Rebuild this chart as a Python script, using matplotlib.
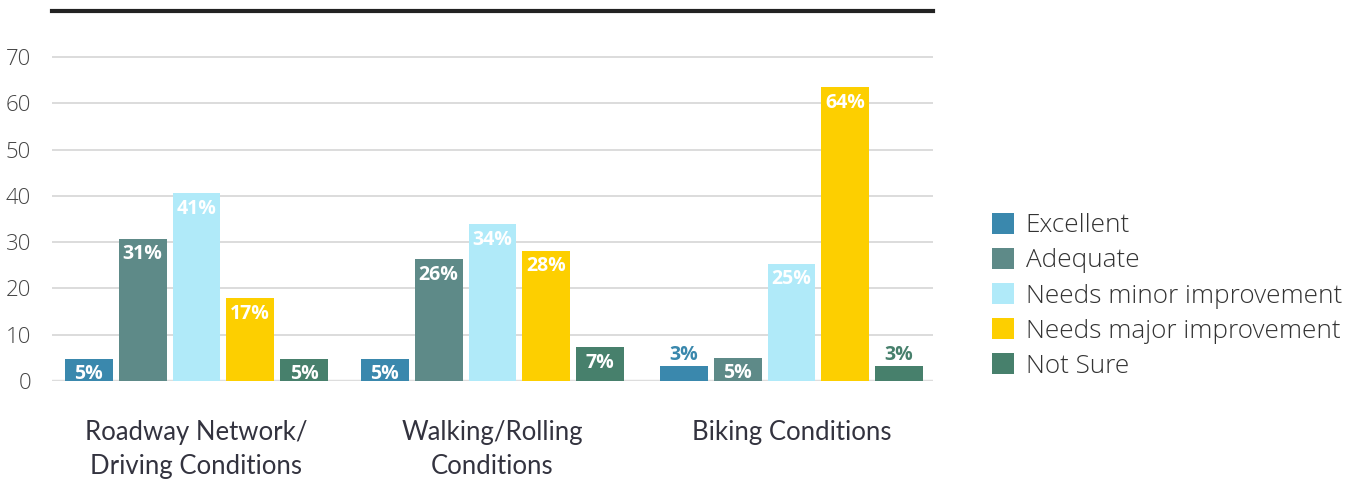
import numpy as np
import matplotlib
matplotlib.use("Agg")
import matplotlib.pyplot as plt
from matplotlib.patches import Patch

# Daten
categories = ["Roadway Network/\nDriving Conditions", "Walking/Rolling\nConditions", "Biking Conditions"]
series = ["Excellent", "Adequate", "Needs minor improvement", "Needs major improvement", "Not Sure"]
# Balkenhoehen und beschriftete Prozentwerte
heights = [
    [4.8, 4.8, 3.2],      # Excellent
    [30.7, 26.3, 5.0],    # Adequate
    [40.6, 33.9, 25.3],   # Needs minor improvement
    [17.9, 28.1, 63.5],   # Needs major improvement
    [4.8, 7.3, 3.2],      # Not Sure
]
labels = [
    ["5%", "5%", "3%"],
    ["31%", "26%", "5%"],
    ["41%", "34%", "25%"],
    ["17%", "28%", "64%"],
    ["5%", "7%", "3%"],
]
colors = ["#3a88ad", "#5e8a88", "#b0eaf9", "#fdcf00", "#47806c"]
yticks = [0, 10, 20, 30, 40, 50, 60, 70]

plt.rcParams["font.family"] = ["Open Sans", "DejaVu Sans"]

fig = plt.figure(figsize=(13.62, 4.83), dpi=100)
ax = fig.add_axes([0.0382, 0.2112, 0.6468, 0.7668])

x = np.array([0, 0.99, 1.99])
step = 0.18
width = 0.16

for i, (name, vals, labs, col) in enumerate(zip(series, heights, labels, colors)):
    pos = x + (i - 2) * step
    ax.bar(pos, vals, width, color=col, label=name, zorder=3)
    for px, v, t in zip(pos, vals, labs):
        if v < 4:
            # kleine Balken: Beschriftung oberhalb in Balkenfarbe
            ax.annotate(t, (px, v), xytext=(0, 1), textcoords="offset points",
                        ha="center", va="bottom", color=col, fontsize=14, fontweight="bold")
        else:
            ax.annotate(t, (px, v), xytext=(0, -4), textcoords="offset points",
                        ha="center", va="top", color="white", fontsize=14, fontweight="bold")

ax.set_xlim(-0.483, 2.463)
ax.set_ylim(0, 80)
ax.set_yticks(yticks)
ax.set_xticks(x)
ax.set_xticklabels(categories, fontsize=18.5, color="#33333f", linespacing=1.45,
                   family=["Lato", "DejaVu Sans"])
ax.tick_params(axis="x", length=0, pad=28)
ax.tick_params(axis="y", length=0, pad=15, labelsize=16, labelcolor="#444444")
for lab in ax.get_yticklabels():
    lab.set_fontweight(300)

ax.grid(axis="y", color="#d6d6d6", linewidth=1.2, zorder=0)
for s in ["left", "right", "bottom"]:
    ax.spines[s].set_visible(False)
ax.spines["top"].set_color("#222222")
ax.spines["top"].set_linewidth(3)
ax.axhline(0, color="#dddddd", linewidth=2.5, zorder=2)

handles = [Patch(facecolor=c, label=n) for c, n in zip(colors, series)]
leg = fig.legend(handles=handles, loc="center left", bbox_to_anchor=(0.7205, 0.3875),
                 frameon=False, fontsize=18.8, handlelength=0.85, handleheight=0.85,
                 handletextpad=0.45, labelspacing=0.37, borderaxespad=0)
for t in leg.get_texts():
    t.set_color("#333333")
    t.set_fontweight(300)

fig.savefig("out.png", dpi=100)
